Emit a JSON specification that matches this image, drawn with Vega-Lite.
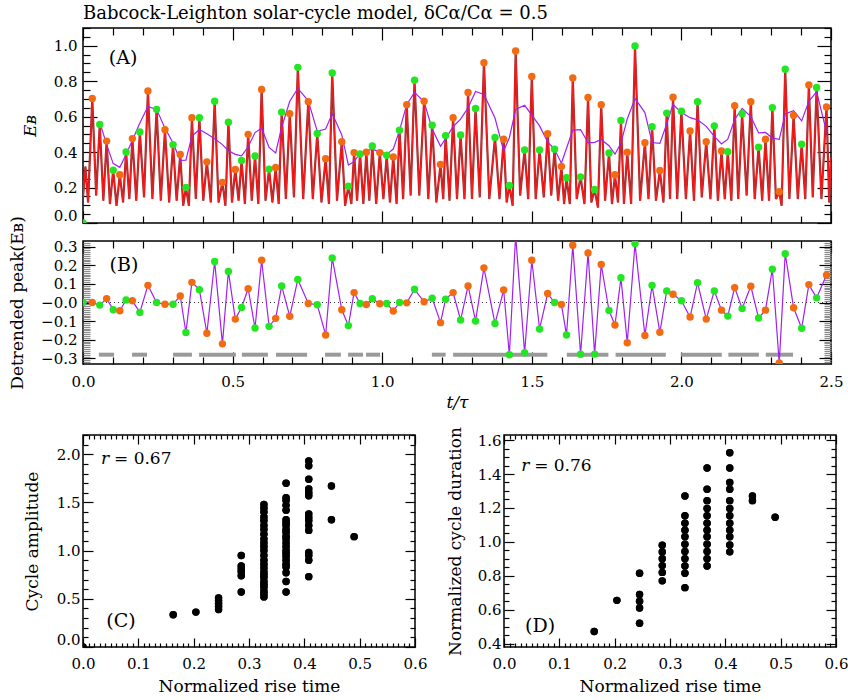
{
"$schema":"https://vega.github.io/schema/vega-lite/v6.json",
"padding":{"left":7,"top":4,"right":0,"bottom":0},
"background":"white",
"title":{"text":"Babcock-Leighton solar-cycle model, δCα/Cα = 0.5","anchor":"start","frame":"group","font":"DejaVu Serif","fontSize":18,"fontWeight":"normal","color":"black","offset":4},
"config":{
 "view":{"stroke":"black","strokeWidth":1.5},
 "axis":{"grid":false,"domain":false,"labelFont":"DejaVu Serif","labelFontSize":15,"labelColor":"black","titleFont":"DejaVu Serif","titleFontSize":17,"titleFontWeight":"normal","titleColor":"black","tickColor":"black","tickWidth":1.2,"labelFlush":false,"labelOverlap":false,"labelBound":false},
 "axisY":{"labelFlush":1},
 "text":{"font":"DejaVu Serif","color":"black"}
},
"datasets":{
"peaks":[
{"t":0,"E":0,"D":0,"m":null,"c":"g"},
{"t":0.031,"E":0.702,"D":0,"m":null,"c":"o"},
{"t":0.056,"E":0.556,"D":-0.014,"m":0.569,"c":"g"},
{"t":0.079,"E":0.462,"D":0.021,"m":0.442,"c":"o"},
{"t":0.101,"E":0.298,"D":-0.039,"m":0.335,"c":"g"},
{"t":0.123,"E":0.272,"D":-0.044,"m":0.314,"c":"o"},
{"t":0.144,"E":0.401,"D":0.014,"m":0.387,"c":"g"},
{"t":0.165,"E":0.476,"D":0.009,"m":0.467,"c":"o"},
{"t":0.19,"E":0.513,"D":-0.053,"m":0.564,"c":"g"},
{"t":0.217,"E":0.745,"D":0.092,"m":0.657,"c":"o"},
{"t":0.246,"E":0.641,"D":0,"m":0.641,"c":"g"},
{"t":0.274,"E":0.526,"D":-0.009,"m":0.535,"c":"o"},
{"t":0.301,"E":0.442,"D":-0.009,"m":0.451,"c":"g"},
{"t":0.325,"E":0.386,"D":0.035,"m":0.353,"c":"o"},
{"t":0.344,"E":0.201,"D":-0.161,"m":0.355,"c":"g"},
{"t":0.364,"E":0.594,"D":0.108,"m":0.49,"c":"o"},
{"t":0.389,"E":0.594,"D":0.069,"m":0.527,"c":"g"},
{"t":0.414,"E":0.345,"D":-0.165,"m":0.503,"c":"o"},
{"t":0.44,"E":0.687,"D":0.22,"m":0.475,"c":"g"},
{"t":0.466,"E":0.229,"D":-0.222,"m":0.442,"c":"o"},
{"t":0.486,"E":0.569,"D":0.167,"m":0.408,"c":"g"},
{"t":0.509,"E":0.302,"D":-0.089,"m":0.387,"c":"o"},
{"t":0.53,"E":0.353,"D":-0.027,"m":0.379,"c":"g"},
{"t":0.552,"E":0.5,"D":0.074,"m":0.43,"c":"o"},
{"t":0.575,"E":0.378,"D":-0.137,"m":0.51,"c":"g"},
{"t":0.597,"E":0.753,"D":0.227,"m":0.535,"c":"o"},
{"t":0.622,"E":0.304,"D":-0.128,"m":0.426,"c":"g"},
{"t":0.644,"E":0.313,"D":-0.085,"m":0.395,"c":"o"},
{"t":0.664,"E":0.625,"D":0.089,"m":0.54,"c":"g"},
{"t":0.691,"E":0.616,"D":-0.074,"m":0.687,"c":"o"},
{"t":0.718,"E":0.878,"D":0.124,"m":0.759,"c":"g"},
{"t":0.753,"E":0.684,"D":-0.005,"m":0.689,"c":"o"},
{"t":0.783,"E":0.505,"D":-0.012,"m":0.517,"c":"g"},
{"t":0.811,"E":0.363,"D":-0.174,"m":0.53,"c":"o"},
{"t":0.833,"E":0.846,"D":0.239,"m":0.617,"c":"g"},
{"t":0.865,"E":0.459,"D":-0.039,"m":0.497,"c":"o"},
{"t":0.887,"E":0.207,"D":-0.124,"m":0.327,"c":"g"},
{"t":0.906,"E":0.397,"D":0.053,"m":0.346,"c":"o"},
{"t":0.926,"E":0.389,"D":-0.005,"m":0.394,"c":"g"},
{"t":0.947,"E":0.399,"D":-0.011,"m":0.409,"c":"o"},
{"t":0.967,"E":0.434,"D":0.02,"m":0.415,"c":"g"},
{"t":0.992,"E":0.397,"D":-0.007,"m":0.403,"c":"o"},
{"t":1.015,"E":0.382,"D":-0.005,"m":0.387,"c":"g"},
{"t":1.037,"E":0.373,"D":-0.046,"m":0.417,"c":"o"},
{"t":1.058,"E":0.523,"D":0,"m":0.523,"c":"g"},
{"t":1.082,"E":0.667,"D":-0.002,"m":0.669,"c":"o"},
{"t":1.108,"E":0.805,"D":0.071,"m":0.737,"c":"g"},
{"t":1.14,"E":0.687,"D":0.004,"m":0.683,"c":"o"},
{"t":1.167,"E":0.552,"D":0.023,"m":0.53,"c":"g"},
{"t":1.195,"E":0.33,"D":-0.108,"m":0.433,"c":"o"},
{"t":1.212,"E":0.493,"D":0.018,"m":0.476,"c":"g"},
{"t":1.237,"E":0.594,"D":0.053,"m":0.543,"c":"o"},
{"t":1.262,"E":0.496,"D":-0.094,"m":0.586,"c":"g"},
{"t":1.287,"E":0.736,"D":0.089,"m":0.65,"c":"o"},
{"t":1.312,"E":0.646,"D":-0.099,"m":0.742,"c":"g"},
{"t":1.34,"E":0.904,"D":0.186,"m":0.725,"c":"o"},
{"t":1.377,"E":0.483,"D":-0.113,"m":0.592,"c":"g"},
{"t":1.406,"E":0.472,"D":0.067,"m":0.407,"c":"o"},
{"t":1.425,"E":0.212,"D":-0.28,"m":0.481,"c":"g"},
{"t":1.446,"E":0.97,"D":0.36,"m":0.641,"c":"o"},
{"t":1.476,"E":0.412,"D":-0.27,"m":0.664,"c":"g"},
{"t":1.5,"E":0.827,"D":0.227,"m":0.609,"c":"o"},
{"t":1.526,"E":0.412,"D":-0.142,"m":0.548,"c":"g"},
{"t":1.553,"E":0.504,"D":0.048,"m":0.458,"c":"o"},
{"t":1.576,"E":0.416,"D":0,"m":0.416,"c":"g"},
{"t":1.599,"E":0.319,"D":-0.011,"m":0.337,"c":"o"},
{"t":1.616,"E":0.255,"D":-0.174,"m":0.422,"c":"g"},
{"t":1.637,"E":0.818,"D":0.307,"m":0.524,"c":"o"},
{"t":1.663,"E":0.26,"D":-0.278,"m":0.527,"c":"g"},
{"t":1.688,"E":0.708,"D":0.266,"m":0.452,"c":"o"},
{"t":1.71,"E":0.189,"D":-0.277,"m":0.455,"c":"g"},
{"t":1.732,"E":0.667,"D":0.204,"m":0.471,"c":"o"},
{"t":1.758,"E":0.395,"D":-0.043,"m":0.436,"c":"g"},
{"t":1.778,"E":0.272,"D":-0.121,"m":0.388,"c":"o"},
{"t":1.798,"E":0.578,"D":0.133,"m":0.451,"c":"g"},
{"t":1.819,"E":0.399,"D":-0.216,"m":0.587,"c":"o"},
{"t":1.845,"E":0.998,"D":0.316,"m":0.702,"c":"g"},
{"t":1.878,"E":0.453,"D":-0.177,"m":0.623,"c":"o"},
{"t":1.902,"E":0.543,"D":0.092,"m":0.454,"c":"g"},
{"t":1.928,"E":0.296,"D":-0.16,"m":0.449,"c":"o"},
{"t":1.951,"E":0.62,"D":0.062,"m":0.56,"c":"g"},
{"t":1.972,"E":0.71,"D":0.044,"m":0.668,"c":"o"},
{"t":2.0,"E":0.631,"D":0.009,"m":0.623,"c":"g"},
{"t":2.029,"E":0.519,"D":-0.078,"m":0.594,"c":"o"},
{"t":2.054,"E":0.684,"D":0.106,"m":0.582,"c":"g"},
{"t":2.083,"E":0.459,"D":-0.089,"m":0.545,"c":"o"},
{"t":2.11,"E":0.548,"D":0.062,"m":0.489,"c":"g"},
{"t":2.134,"E":0.406,"D":-0.041,"m":0.446,"c":"o"},
{"t":2.155,"E":0.402,"D":-0.073,"m":0.473,"c":"g"},
{"t":2.178,"E":0.661,"D":0.08,"m":0.584,"c":"o"},
{"t":2.203,"E":0.616,"D":-0.032,"m":0.647,"c":"g"},
{"t":2.232,"E":0.684,"D":0.087,"m":0.6,"c":"o"},
{"t":2.258,"E":0.428,"D":-0.083,"m":0.508,"c":"g"},
{"t":2.281,"E":0.472,"D":-0.041,"m":0.511,"c":"o"},
{"t":2.304,"E":0.651,"D":0.179,"m":0.479,"c":"g"},
{"t":2.327,"E":0.176,"D":-0.325,"m":0.472,"c":"o"},
{"t":2.347,"E":0.867,"D":0.262,"m":0.615,"c":"g"},
{"t":2.375,"E":0.607,"D":-0.028,"m":0.634,"c":"o"},
{"t":2.402,"E":0.444,"D":-0.138,"m":0.576,"c":"g"},
{"t":2.426,"E":0.779,"D":0.096,"m":0.687,"c":"o"},
{"t":2.452,"E":0.764,"D":0.025,"m":0.74,"c":"g"},
{"t":2.485,"E":0.655,"D":0.147,"m":0.514,"c":"o"}
],
"curve":[
{"t":0,"E":0.145},{"t":0.008,"E":0.318},{"t":0.017,"E":0.116},{"t":0.031,"E":0.702},{"t":0.044,"E":0.155},{"t":0.056,"E":0.556},{"t":0.068,"E":0.126},{"t":0.079,"E":0.462},{"t":0.09,"E":0.107},{"t":0.101,"E":0.298},{"t":0.112,"E":0.097},{"t":0.123,"E":0.272},{"t":0.134,"E":0.116},{"t":0.144,"E":0.401},{"t":0.155,"E":0.135},{"t":0.165,"E":0.476},{"t":0.178,"E":0.126},{"t":0.19,"E":0.513},{"t":0.204,"E":0.145},{"t":0.217,"E":0.745},{"t":0.232,"E":0.135},{"t":0.246,"E":0.641},{"t":0.26,"E":0.126},{"t":0.274,"E":0.526},{"t":0.288,"E":0.116},{"t":0.301,"E":0.442},{"t":0.313,"E":0.126},{"t":0.325,"E":0.386},{"t":0.335,"E":0.097},{"t":0.344,"E":0.201},{"t":0.354,"E":0.097},{"t":0.364,"E":0.594},{"t":0.377,"E":0.135},{"t":0.389,"E":0.594},{"t":0.402,"E":0.126},{"t":0.414,"E":0.345},{"t":0.427,"E":0.116},{"t":0.44,"E":0.687},{"t":0.453,"E":0.116},{"t":0.466,"E":0.229},{"t":0.476,"E":0.097},{"t":0.486,"E":0.569},{"t":0.498,"E":0.116},{"t":0.509,"E":0.302},{"t":0.52,"E":0.126},{"t":0.53,"E":0.353},{"t":0.541,"E":0.107},{"t":0.552,"E":0.5},{"t":0.564,"E":0.126},{"t":0.575,"E":0.378},{"t":0.586,"E":0.107},{"t":0.597,"E":0.753},{"t":0.61,"E":0.126},{"t":0.622,"E":0.304},{"t":0.633,"E":0.116},{"t":0.644,"E":0.313},{"t":0.654,"E":0.107},{"t":0.664,"E":0.625},{"t":0.678,"E":0.135},{"t":0.691,"E":0.616},{"t":0.705,"E":0.145},{"t":0.718,"E":0.878},{"t":0.736,"E":0.135},{"t":0.753,"E":0.684},{"t":0.768,"E":0.135},{"t":0.783,"E":0.505},{"t":0.797,"E":0.116},{"t":0.811,"E":0.363},{"t":0.822,"E":0.107},{"t":0.833,"E":0.846},{"t":0.849,"E":0.126},{"t":0.865,"E":0.459},{"t":0.876,"E":0.097},{"t":0.887,"E":0.207},{"t":0.897,"E":0.107},{"t":0.906,"E":0.397},{"t":0.916,"E":0.126},{"t":0.926,"E":0.389},{"t":0.937,"E":0.107},{"t":0.947,"E":0.399},{"t":0.957,"E":0.126},{"t":0.967,"E":0.434},{"t":0.98,"E":0.107},{"t":0.992,"E":0.397},{"t":1.004,"E":0.135},{"t":1.015,"E":0.382},{"t":1.026,"E":0.116},{"t":1.037,"E":0.373},{"t":1.048,"E":0.107},{"t":1.058,"E":0.523},{"t":1.07,"E":0.135},{"t":1.082,"E":0.667},{"t":1.095,"E":0.155},{"t":1.108,"E":0.805},{"t":1.124,"E":0.155},{"t":1.14,"E":0.687},{"t":1.154,"E":0.135},{"t":1.167,"E":0.552},{"t":1.181,"E":0.116},{"t":1.195,"E":0.33},{"t":1.204,"E":0.135},{"t":1.212,"E":0.493},{"t":1.225,"E":0.126},{"t":1.237,"E":0.594},{"t":1.25,"E":0.135},{"t":1.262,"E":0.496},{"t":1.275,"E":0.135},{"t":1.287,"E":0.736},{"t":1.3,"E":0.135},{"t":1.312,"E":0.646},{"t":1.326,"E":0.145},{"t":1.34,"E":0.904},{"t":1.358,"E":0.135},{"t":1.377,"E":0.483},{"t":1.392,"E":0.135},{"t":1.406,"E":0.472},{"t":1.416,"E":0.116},{"t":1.425,"E":0.212},{"t":1.436,"E":0.097},{"t":1.446,"E":0.97},{"t":1.461,"E":0.155},{"t":1.476,"E":0.412},{"t":1.488,"E":0.135},{"t":1.5,"E":0.827},{"t":1.513,"E":0.135},{"t":1.526,"E":0.412},{"t":1.54,"E":0.145},{"t":1.553,"E":0.504},{"t":1.565,"E":0.155},{"t":1.576,"E":0.416},{"t":1.588,"E":0.126},{"t":1.599,"E":0.319},{"t":1.608,"E":0.107},{"t":1.616,"E":0.255},{"t":1.627,"E":0.107},{"t":1.637,"E":0.818},{"t":1.65,"E":0.135},{"t":1.663,"E":0.26},{"t":1.676,"E":0.107},{"t":1.688,"E":0.708},{"t":1.699,"E":0.116},{"t":1.71,"E":0.189},{"t":1.721,"E":0.087},{"t":1.732,"E":0.667},{"t":1.745,"E":0.126},{"t":1.758,"E":0.395},{"t":1.768,"E":0.107},{"t":1.778,"E":0.272},{"t":1.788,"E":0.116},{"t":1.798,"E":0.578},{"t":1.808,"E":0.107},{"t":1.819,"E":0.399},{"t":1.832,"E":0.107},{"t":1.845,"E":0.998},{"t":1.862,"E":0.126},{"t":1.878,"E":0.453},{"t":1.89,"E":0.135},{"t":1.902,"E":0.543},{"t":1.915,"E":0.126},{"t":1.928,"E":0.296},{"t":1.94,"E":0.116},{"t":1.951,"E":0.62},{"t":1.962,"E":0.135},{"t":1.972,"E":0.71},{"t":1.986,"E":0.135},{"t":2.0,"E":0.631},{"t":2.015,"E":0.135},{"t":2.029,"E":0.519},{"t":2.042,"E":0.126},{"t":2.054,"E":0.684},{"t":2.068,"E":0.145},{"t":2.083,"E":0.459},{"t":2.097,"E":0.135},{"t":2.11,"E":0.548},{"t":2.122,"E":0.126},{"t":2.134,"E":0.406},{"t":2.145,"E":0.135},{"t":2.155,"E":0.402},{"t":2.167,"E":0.126},{"t":2.178,"E":0.661},{"t":2.19,"E":0.135},{"t":2.203,"E":0.616},{"t":2.218,"E":0.155},{"t":2.232,"E":0.684},{"t":2.245,"E":0.135},{"t":2.258,"E":0.428},{"t":2.27,"E":0.126},{"t":2.281,"E":0.472},{"t":2.293,"E":0.126},{"t":2.304,"E":0.651},{"t":2.316,"E":0.135},{"t":2.327,"E":0.176},{"t":2.335,"E":0.097},{"t":2.347,"E":0.867},{"t":2.361,"E":0.135},{"t":2.375,"E":0.607},{"t":2.389,"E":0.135},{"t":2.402,"E":0.444},{"t":2.414,"E":0.135},{"t":2.426,"E":0.779},{"t":2.439,"E":0.145},{"t":2.452,"E":0.764},{"t":2.468,"E":0.135},{"t":2.485,"E":0.655},{"t":2.494,"E":0.116},{"t":2.5,"E":0.37}
],
"dashes":[
{"t0":0.053,"t1":0.104},{"t0":0.164,"t1":0.214},{"t0":0.301,"t1":0.364},{"t0":0.388,"t1":0.511},{"t0":0.531,"t1":0.618},{"t0":0.645,"t1":0.749},{"t0":0.809,"t1":0.862},{"t0":0.886,"t1":0.936},{"t0":0.946,"t1":0.993},{"t0":1.166,"t1":1.212},{"t0":1.237,"t1":1.552},{"t0":1.617,"t1":1.756},{"t0":1.78,"t1":1.948},{"t0":1.999,"t1":2.135},{"t0":2.157,"t1":2.259},{"t0":2.282,"t1":2.373}
],
"ampl":[
{"rise":0,"amp":0},{"rise":0.163,"amp":0.334},{"rise":0.204,"amp":0.362},
{"rise":0.245,"amp":0.39},{"rise":0.245,"amp":0.42},{"rise":0.245,"amp":0.45},{"rise":0.245,"amp":0.48},{"rise":0.245,"amp":0.51},
{"rise":0.286,"amp":0.57},{"rise":0.286,"amp":0.74},{"rise":0.286,"amp":0.78},{"rise":0.286,"amp":0.81},{"rise":0.286,"amp":0.84},{"rise":0.286,"amp":0.95},
{"rise":0.327,"amp":0.52},{"rise":0.327,"amp":0.55},{"rise":0.327,"amp":0.58},{"rise":0.327,"amp":0.62},{"rise":0.327,"amp":0.65},{"rise":0.327,"amp":0.68},{"rise":0.327,"amp":0.72},{"rise":0.327,"amp":0.75},{"rise":0.327,"amp":0.78},{"rise":0.327,"amp":0.82},{"rise":0.327,"amp":0.86},{"rise":0.327,"amp":0.9},{"rise":0.327,"amp":0.95},{"rise":0.327,"amp":1.0},{"rise":0.327,"amp":1.04},{"rise":0.327,"amp":1.08},{"rise":0.327,"amp":1.12},{"rise":0.327,"amp":1.17},{"rise":0.327,"amp":1.22},{"rise":0.327,"amp":1.26},{"rise":0.327,"amp":1.31},{"rise":0.327,"amp":1.35},{"rise":0.327,"amp":1.4},{"rise":0.327,"amp":1.44},{"rise":0.327,"amp":1.48},
{"rise":0.367,"amp":0.57},{"rise":0.367,"amp":0.68},{"rise":0.367,"amp":0.77},{"rise":0.367,"amp":0.83},{"rise":0.367,"amp":0.86},{"rise":0.367,"amp":0.9},{"rise":0.367,"amp":0.94},{"rise":0.367,"amp":0.97},{"rise":0.367,"amp":1.0},{"rise":0.367,"amp":1.04},{"rise":0.367,"amp":1.08},{"rise":0.367,"amp":1.12},{"rise":0.367,"amp":1.15},{"rise":0.367,"amp":1.19},{"rise":0.367,"amp":1.22},{"rise":0.367,"amp":1.26},{"rise":0.367,"amp":1.29},{"rise":0.367,"amp":1.32},{"rise":0.367,"amp":1.42},{"rise":0.367,"amp":1.47},{"rise":0.367,"amp":1.52},{"rise":0.367,"amp":1.55},{"rise":0.367,"amp":1.7},
{"rise":0.408,"amp":0.73},{"rise":0.408,"amp":0.9},{"rise":0.408,"amp":0.95},{"rise":0.408,"amp":0.98},{"rise":0.408,"amp":1.21},{"rise":0.408,"amp":1.26},{"rise":0.408,"amp":1.31},{"rise":0.408,"amp":1.345},{"rise":0.408,"amp":1.38},{"rise":0.408,"amp":1.57},{"rise":0.408,"amp":1.6},{"rise":0.408,"amp":1.64},{"rise":0.408,"amp":1.74},{"rise":0.408,"amp":1.88},{"rise":0.408,"amp":1.93},
{"rise":0.449,"amp":1.32},{"rise":0.449,"amp":1.67},{"rise":0.49,"amp":1.145}
],
"dur":[
{"rise":0.163,"dur":0.471},{"rise":0.204,"dur":0.655},
{"rise":0.245,"dur":0.52},{"rise":0.245,"dur":0.61},{"rise":0.245,"dur":0.65},{"rise":0.245,"dur":0.69},{"rise":0.245,"dur":0.815},
{"rise":0.286,"dur":0.77},{"rise":0.286,"dur":0.82},{"rise":0.286,"dur":0.86},{"rise":0.286,"dur":0.9},{"rise":0.286,"dur":0.94},{"rise":0.286,"dur":0.98},
{"rise":0.327,"dur":0.73},{"rise":0.327,"dur":0.815},{"rise":0.327,"dur":0.858},{"rise":0.327,"dur":0.9},{"rise":0.327,"dur":0.943},{"rise":0.327,"dur":0.986},{"rise":0.327,"dur":1.03},{"rise":0.327,"dur":1.069},{"rise":0.327,"dur":1.11},{"rise":0.327,"dur":1.154},{"rise":0.327,"dur":1.27},
{"rise":0.367,"dur":0.858},{"rise":0.367,"dur":0.9},{"rise":0.367,"dur":0.943},{"rise":0.367,"dur":0.986},{"rise":0.367,"dur":1.03},{"rise":0.367,"dur":1.069},{"rise":0.367,"dur":1.11},{"rise":0.367,"dur":1.154},{"rise":0.367,"dur":1.197},{"rise":0.367,"dur":1.243},{"rise":0.367,"dur":1.31},{"rise":0.367,"dur":1.435},
{"rise":0.408,"dur":0.941},{"rise":0.408,"dur":0.982},{"rise":0.408,"dur":1.03},{"rise":0.408,"dur":1.069},{"rise":0.408,"dur":1.11},{"rise":0.408,"dur":1.154},{"rise":0.408,"dur":1.197},{"rise":0.408,"dur":1.243},{"rise":0.408,"dur":1.31},{"rise":0.408,"dur":1.35},{"rise":0.408,"dur":1.435},{"rise":0.408,"dur":1.525},
{"rise":0.449,"dur":1.243},{"rise":0.449,"dur":1.27},{"rise":0.49,"dur":1.145}
]
},
"spacing":14,
"vconcat":[
{"spacing":18,"bounds":"flush","vconcat":[
 {"width":748,"height":195,
  "resolve":{"axis":{"x":"independent","y":"independent"}},
  "layer":[
   {"data":{"name":"curve"},"mark":{"type":"line","color":"#a8282a","strokeWidth":2.2,"clip":true},
    "encoding":{
     "x":{"field":"t","type":"quantitative","scale":{"domain":[0,2.5],"nice":false,"zero":false},
      "axis":{"orient":"bottom","values":[0,0.1,0.2,0.3,0.4,0.5,0.6,0.7,0.8,0.9,1,1.1,1.2,1.3,1.4,1.5,1.6,1.7,1.8,1.9,2,2.1,2.2,2.3,2.4,2.5],"labels":false,"title":null,
       "tickSize":{"condition":{"test":"abs(datum.value*2-round(datum.value*2))<0.001","value":-12},"value":-7}}},
     "y":{"field":"E","type":"quantitative","scale":{"domain":[0,1.1],"nice":false},
      "axis":{"orient":"left","values":[0,0.05,0.1,0.15,0.2,0.25,0.3,0.35,0.4,0.45,0.5,0.55,0.6,0.65,0.7,0.75,0.8,0.85,0.9,0.95,1,1.05,1.1],
       "title":"Eʙ","titleFontStyle":"italic","titlePadding":14,"labelPadding":20,
       "labelExpr":"abs(datum.value*5-round(datum.value*5))<0.001 ? format(datum.value,'.1f') : ''",
       "tickSize":{"condition":{"test":"abs(datum.value*5-round(datum.value*5))<0.001","value":-14},"value":-7}}}}},
   {"data":{"name":"curve"},"mark":{"type":"line","color":"#ff1a1a","strokeWidth":1,"clip":true},
    "encoding":{
     "x":{"field":"t","type":"quantitative","scale":{"domain":[0,2.5],"nice":false,"zero":false},
      "axis":{"orient":"top","values":[0,0.1,0.2,0.3,0.4,0.5,0.6,0.7,0.8,0.9,1,1.1,1.2,1.3,1.4,1.5,1.6,1.7,1.8,1.9,2,2.1,2.2,2.3,2.4,2.5],"labels":false,"title":null,
       "tickSize":{"condition":{"test":"abs(datum.value*2-round(datum.value*2))<0.001","value":-12},"value":-7}}},
     "y":{"field":"E","type":"quantitative","scale":{"domain":[0,1.1],"nice":false},
      "axis":{"orient":"right","values":[0,0.05,0.1,0.15,0.2,0.25,0.3,0.35,0.4,0.45,0.5,0.55,0.6,0.65,0.7,0.75,0.8,0.85,0.9,0.95,1,1.05,1.1],"labels":false,"title":null,
       "tickSize":{"condition":{"test":"abs(datum.value*5-round(datum.value*5))<0.001","value":-14},"value":-7}}}}},
   {"data":{"name":"peaks"},"mark":{"type":"line","color":"#a020f0","strokeWidth":1.2,"clip":true},
    "encoding":{
     "x":{"field":"t","type":"quantitative","scale":{"domain":[0,2.5],"nice":false,"zero":false},"axis":null},
     "y":{"field":"m","type":"quantitative","scale":{"domain":[0,1.1],"nice":false},"axis":null}}},
   {"data":{"name":"peaks"},"mark":{"type":"circle","size":55,"opacity":1,"clip":true},
    "encoding":{
     "x":{"field":"t","type":"quantitative","scale":{"domain":[0,2.5],"nice":false,"zero":false},"axis":null},
     "y":{"field":"E","type":"quantitative","scale":{"domain":[0,1.1],"nice":false},"axis":null},
     "color":{"field":"c","type":"nominal","scale":{"domain":["g","o"],"range":["#22e622","#f26b12"]},"legend":null}}},
   {"data":{"values":[{}]},"mark":{"type":"text","text":"(A)","fontSize":19,"align":"center","baseline":"middle"},
    "encoding":{
     "x":{"datum":0.134,"type":"quantitative","scale":{"domain":[0,2.5],"nice":false,"zero":false},"axis":null},
     "y":{"datum":0.93,"type":"quantitative","scale":{"domain":[0,1.1],"nice":false},"axis":null}}}
  ]},
 {"width":748,"height":123,
  "resolve":{"axis":{"x":"independent","y":"independent"}},
  "layer":[
   {"data":{"name":"dashes"},"mark":{"type":"rule","color":"#9a9a9a","strokeWidth":4,"strokeCap":"butt"},
    "encoding":{
     "x":{"field":"t0","type":"quantitative","scale":{"domain":[0,2.5],"nice":false,"zero":false},"axis":null},
     "x2":{"field":"t1"},
     "y":{"datum":-0.28,"type":"quantitative","scale":{"domain":[-0.33,0.33],"nice":false},"axis":null}}},
   {"data":{"values":[{}]},"mark":{"type":"rule","color":"#333333","strokeWidth":1,"strokeDash":[1,3]},
    "encoding":{
     "y":{"datum":0,"type":"quantitative","scale":{"domain":[-0.33,0.33],"nice":false},"axis":null}}},
   {"data":{"name":"peaks"},"mark":{"type":"line","color":"#a020f0","strokeWidth":1.2,"clip":true},
    "encoding":{
     "x":{"field":"t","type":"quantitative","scale":{"domain":[0,2.5],"nice":false,"zero":false},
      "axis":{"orient":"bottom","values":[0,0.1,0.2,0.3,0.4,0.5,0.6,0.7,0.8,0.9,1,1.1,1.2,1.3,1.4,1.5,1.6,1.7,1.8,1.9,2,2.1,2.2,2.3,2.4,2.5],
       "title":"t/τ","titleFontStyle":"italic","titlePadding":0,"labelPadding":22,
       "labelExpr":"abs(datum.value*2-round(datum.value*2))<0.001 ? format(datum.value,'.1f') : ''",
       "tickSize":{"condition":{"test":"abs(datum.value*2-round(datum.value*2))<0.001","value":-12},"value":-7}}},
     "y":{"field":"D","type":"quantitative","scale":{"domain":[-0.33,0.33],"nice":false},
      "axis":{"orient":"left","values":[-0.32,-0.31,-0.3,-0.29,-0.28,-0.27,-0.26,-0.25,-0.24,-0.23,-0.22,-0.21,-0.2,-0.19,-0.18,-0.17,-0.16,-0.15,-0.14,-0.13,-0.12,-0.11,-0.1,-0.09,-0.08,-0.07,-0.06,-0.05,-0.04,-0.03,-0.02,-0.01,0,0.01,0.02,0.03,0.04,0.05,0.06,0.07,0.08,0.09,0.1,0.11,0.12,0.13,0.14,0.15,0.16,0.17,0.18,0.19,0.2,0.21,0.22,0.23,0.24,0.25,0.26,0.27,0.28,0.29,0.3,0.31,0.32],
       "title":"Detrended peak(Eʙ)","titlePadding":14,"labelPadding":18,
       "labelExpr":"abs(datum.value*10-round(datum.value*10))<0.001 ? (abs(datum.value)<0.001 ? '−0.0' : format(datum.value,'.1f')) : ''",
       "tickColor":{"condition":{"test":"abs(datum.value*10-round(datum.value*10))<0.001","value":"black"},"value":"#8c8c8c"},
       "tickSize":{"condition":{"test":"abs(datum.value*10-round(datum.value*10))<0.001","value":-12},"value":-7}}}}},
   {"data":{"name":"peaks"},"mark":{"type":"circle","size":55,"opacity":1,"clip":true},
    "encoding":{
     "x":{"field":"t","type":"quantitative","scale":{"domain":[0,2.5],"nice":false,"zero":false},
      "axis":{"orient":"top","values":[0,0.1,0.2,0.3,0.4,0.5,0.6,0.7,0.8,0.9,1,1.1,1.2,1.3,1.4,1.5,1.6,1.7,1.8,1.9,2,2.1,2.2,2.3,2.4,2.5],"labels":false,"title":null,
       "tickSize":{"condition":{"test":"abs(datum.value*2-round(datum.value*2))<0.001","value":-12},"value":-7}}},
     "y":{"field":"D","type":"quantitative","scale":{"domain":[-0.33,0.33],"nice":false},
      "axis":{"orient":"right","values":[-0.32,-0.31,-0.3,-0.29,-0.28,-0.27,-0.26,-0.25,-0.24,-0.23,-0.22,-0.21,-0.2,-0.19,-0.18,-0.17,-0.16,-0.15,-0.14,-0.13,-0.12,-0.11,-0.1,-0.09,-0.08,-0.07,-0.06,-0.05,-0.04,-0.03,-0.02,-0.01,0,0.01,0.02,0.03,0.04,0.05,0.06,0.07,0.08,0.09,0.1,0.11,0.12,0.13,0.14,0.15,0.16,0.17,0.18,0.19,0.2,0.21,0.22,0.23,0.24,0.25,0.26,0.27,0.28,0.29,0.3,0.31,0.32],"labels":false,"title":null,
       "tickColor":{"condition":{"test":"abs(datum.value*10-round(datum.value*10))<0.001","value":"black"},"value":"#8c8c8c"},
       "tickSize":{"condition":{"test":"abs(datum.value*10-round(datum.value*10))<0.001","value":-12},"value":-7}}},
     "color":{"field":"c","type":"nominal","scale":{"domain":["g","o"],"range":["#22e622","#f26b12"]},"legend":null}}},
   {"data":{"values":[{}]},"mark":{"type":"text","text":"(B)","fontSize":19,"align":"center","baseline":"middle"},
    "encoding":{
     "x":{"datum":0.137,"type":"quantitative","scale":{"domain":[0,2.5],"nice":false,"zero":false},"axis":null},
     "y":{"datum":0.2,"type":"quantitative","scale":{"domain":[-0.33,0.33],"nice":false},"axis":null}}}
  ]}
]},
{"spacing":89,"bounds":"flush","hconcat":[
 {"width":332,"height":212,
  "resolve":{"axis":{"x":"independent","y":"independent"}},
  "layer":[
   {"data":{"name":"ampl"},"mark":{"type":"circle","size":55,"opacity":1,"color":"black","clip":true},
    "encoding":{
     "x":{"field":"rise","type":"quantitative","scale":{"domain":[0,0.6],"nice":false},
      "axis":{"orient":"bottom","values":[0,0.01,0.02,0.03,0.04,0.05,0.06,0.07,0.08,0.09,0.1,0.11,0.12,0.13,0.14,0.15,0.16,0.17,0.18,0.19,0.2,0.21,0.22,0.23,0.24,0.25,0.26,0.27,0.28,0.29,0.3,0.31,0.32,0.33,0.34,0.35,0.36,0.37,0.38,0.39,0.4,0.41,0.42,0.43,0.44,0.45,0.46,0.47,0.48,0.49,0.5,0.51,0.52,0.53,0.54,0.55,0.56,0.57,0.58,0.59,0.6],
       "title":"Normalized rise time","titlePadding":2,"labelPadding":18,
       "labelExpr":"abs(datum.value*10-round(datum.value*10))<0.001 ? format(datum.value,'.1f') : ''",
       "tickSize":{"condition":{"test":"abs(datum.value*10-round(datum.value*10))<0.001","value":-9},"value":-4}}},
     "y":{"field":"amp","type":"quantitative","scale":{"domain":[0,2.2],"nice":false},
      "axis":{"orient":"left","values":[0,0.1,0.2,0.3,0.4,0.5,0.6,0.7,0.8,0.9,1,1.1,1.2,1.3,1.4,1.5,1.6,1.7,1.8,1.9,2,2.1,2.2],
       "title":"Cycle amplitude","titlePadding":15,"labelPadding":13,
       "labelExpr":"abs(datum.value*2-round(datum.value*2))<0.001 ? format(datum.value,'.1f') : ''",
       "tickSize":{"condition":{"test":"abs(datum.value*2-round(datum.value*2))<0.001","value":-10},"value":-5}}}}},
   {"data":{"name":"ampl"},"mark":{"type":"circle","size":55,"opacity":1,"color":"black","clip":true},
    "encoding":{
     "x":{"field":"rise","type":"quantitative","scale":{"domain":[0,0.6],"nice":false},
      "axis":{"orient":"top","values":[0,0.01,0.02,0.03,0.04,0.05,0.06,0.07,0.08,0.09,0.1,0.11,0.12,0.13,0.14,0.15,0.16,0.17,0.18,0.19,0.2,0.21,0.22,0.23,0.24,0.25,0.26,0.27,0.28,0.29,0.3,0.31,0.32,0.33,0.34,0.35,0.36,0.37,0.38,0.39,0.4,0.41,0.42,0.43,0.44,0.45,0.46,0.47,0.48,0.49,0.5,0.51,0.52,0.53,0.54,0.55,0.56,0.57,0.58,0.59,0.6],"labels":false,"title":null,
       "tickSize":{"condition":{"test":"abs(datum.value*10-round(datum.value*10))<0.001","value":-9},"value":-4}}},
     "y":{"field":"amp","type":"quantitative","scale":{"domain":[0,2.2],"nice":false},
      "axis":{"orient":"right","values":[0,0.1,0.2,0.3,0.4,0.5,0.6,0.7,0.8,0.9,1,1.1,1.2,1.3,1.4,1.5,1.6,1.7,1.8,1.9,2,2.1,2.2],"labels":false,"title":null,
       "tickSize":{"condition":{"test":"abs(datum.value*2-round(datum.value*2))<0.001","value":-10},"value":-5}}}}},
   {"data":{"values":[{}]},"mark":{"type":"text","text":"r","fontSize":17,"fontStyle":"italic","align":"left","baseline":"middle"},
    "encoding":{
     "x":{"datum":0.0325,"type":"quantitative","scale":{"domain":[0,0.6],"nice":false},"axis":null},
     "y":{"datum":1.95,"type":"quantitative","scale":{"domain":[0,2.2],"nice":false},"axis":null}}},
   {"data":{"values":[{}]},"mark":{"type":"text","text":"= 0.67","fontSize":17,"align":"left","baseline":"middle"},
    "encoding":{
     "x":{"datum":0.056,"type":"quantitative","scale":{"domain":[0,0.6],"nice":false},"axis":null},
     "y":{"datum":1.95,"type":"quantitative","scale":{"domain":[0,2.2],"nice":false},"axis":null}}},
   {"data":{"values":[{}]},"mark":{"type":"text","text":"(C)","fontSize":19,"align":"left","baseline":"middle"},
    "encoding":{
     "x":{"datum":0.042,"type":"quantitative","scale":{"domain":[0,0.6],"nice":false},"axis":null},
     "y":{"datum":0.27,"type":"quantitative","scale":{"domain":[0,2.2],"nice":false},"axis":null}}}
  ]},
 {"width":332,"height":212,
  "resolve":{"axis":{"x":"independent","y":"independent"}},
  "layer":[
   {"data":{"name":"dur"},"mark":{"type":"circle","size":55,"opacity":1,"color":"black","clip":true},
    "encoding":{
     "x":{"field":"rise","type":"quantitative","scale":{"domain":[0,0.6],"nice":false},
      "axis":{"orient":"bottom","values":[0,0.01,0.02,0.03,0.04,0.05,0.06,0.07,0.08,0.09,0.1,0.11,0.12,0.13,0.14,0.15,0.16,0.17,0.18,0.19,0.2,0.21,0.22,0.23,0.24,0.25,0.26,0.27,0.28,0.29,0.3,0.31,0.32,0.33,0.34,0.35,0.36,0.37,0.38,0.39,0.4,0.41,0.42,0.43,0.44,0.45,0.46,0.47,0.48,0.49,0.5,0.51,0.52,0.53,0.54,0.55,0.56,0.57,0.58,0.59,0.6],
       "title":"Normalized rise time","titlePadding":2,"labelPadding":18,
       "labelExpr":"abs(datum.value*10-round(datum.value*10))<0.001 ? format(datum.value,'.1f') : ''",
       "tickSize":{"condition":{"test":"abs(datum.value*10-round(datum.value*10))<0.001","value":-9},"value":-4}}},
     "y":{"field":"dur","type":"quantitative","scale":{"domain":[0.38,1.63],"nice":false,"zero":false},
      "axis":{"orient":"left","values":[0.4,0.45,0.5,0.55,0.6,0.65,0.7,0.75,0.8,0.85,0.9,0.95,1,1.05,1.1,1.15,1.2,1.25,1.3,1.35,1.4,1.45,1.5,1.55,1.6],
       "title":"Normalized cycle duration","titlePadding":13,"labelPadding":13,
       "labelExpr":"abs(datum.value*5-round(datum.value*5))<0.001 ? format(datum.value,'.1f') : ''",
       "tickSize":{"condition":{"test":"abs(datum.value*5-round(datum.value*5))<0.001","value":-10},"value":-5}}}}},
   {"data":{"name":"dur"},"mark":{"type":"circle","size":55,"opacity":1,"color":"black","clip":true},
    "encoding":{
     "x":{"field":"rise","type":"quantitative","scale":{"domain":[0,0.6],"nice":false},
      "axis":{"orient":"top","values":[0,0.01,0.02,0.03,0.04,0.05,0.06,0.07,0.08,0.09,0.1,0.11,0.12,0.13,0.14,0.15,0.16,0.17,0.18,0.19,0.2,0.21,0.22,0.23,0.24,0.25,0.26,0.27,0.28,0.29,0.3,0.31,0.32,0.33,0.34,0.35,0.36,0.37,0.38,0.39,0.4,0.41,0.42,0.43,0.44,0.45,0.46,0.47,0.48,0.49,0.5,0.51,0.52,0.53,0.54,0.55,0.56,0.57,0.58,0.59,0.6],"labels":false,"title":null,
       "tickSize":{"condition":{"test":"abs(datum.value*10-round(datum.value*10))<0.001","value":-9},"value":-4}}},
     "y":{"field":"dur","type":"quantitative","scale":{"domain":[0.38,1.63],"nice":false,"zero":false},
      "axis":{"orient":"right","values":[0.4,0.45,0.5,0.55,0.6,0.65,0.7,0.75,0.8,0.85,0.9,0.95,1,1.05,1.1,1.15,1.2,1.25,1.3,1.35,1.4,1.45,1.5,1.55,1.6],"labels":false,"title":null,
       "tickSize":{"condition":{"test":"abs(datum.value*5-round(datum.value*5))<0.001","value":-10},"value":-5}}}}},
   {"data":{"values":[{}]},"mark":{"type":"text","text":"r","fontSize":17,"fontStyle":"italic","align":"left","baseline":"middle"},
    "encoding":{
     "x":{"datum":0.031,"type":"quantitative","scale":{"domain":[0,0.6],"nice":false},"axis":null},
     "y":{"datum":1.447,"type":"quantitative","scale":{"domain":[0.38,1.63],"nice":false,"zero":false},"axis":null}}},
   {"data":{"values":[{}]},"mark":{"type":"text","text":"= 0.76","fontSize":17,"align":"left","baseline":"middle"},
    "encoding":{
     "x":{"datum":0.0545,"type":"quantitative","scale":{"domain":[0,0.6],"nice":false},"axis":null},
     "y":{"datum":1.447,"type":"quantitative","scale":{"domain":[0.38,1.63],"nice":false,"zero":false},"axis":null}}},
   {"data":{"values":[{}]},"mark":{"type":"text","text":"(D)","fontSize":19,"align":"left","baseline":"middle"},
    "encoding":{
     "x":{"datum":0.038,"type":"quantitative","scale":{"domain":[0,0.6],"nice":false},"axis":null},
     "y":{"datum":0.504,"type":"quantitative","scale":{"domain":[0.38,1.63],"nice":false,"zero":false},"axis":null}}}
  ]}
]}
]
}
